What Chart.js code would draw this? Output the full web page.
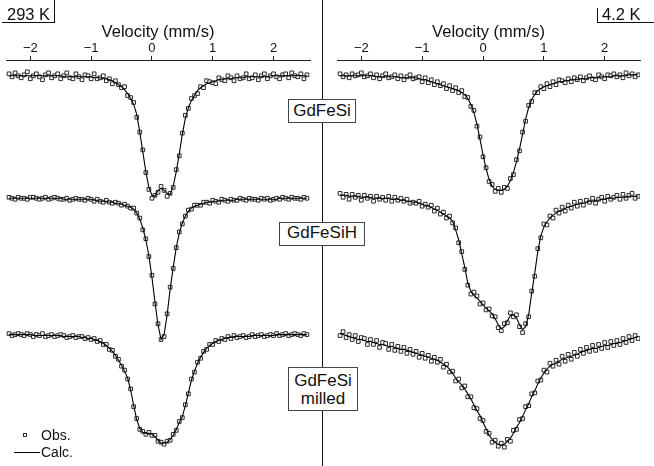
<!DOCTYPE html>
<html>
<head>
<meta charset="utf-8">
<script src="https://cdn.jsdelivr.net/npm/chart.js@4.4.0/dist/chart.umd.min.js"></script>
<style>
  html, body { margin: 0; padding: 0; background: #fff; }
  #fig { position: relative; width: 654px; height: 466px; overflow: hidden;
         font-family: "Liberation Sans", Arial, Helvetica, sans-serif; color: #111; }
  #fig canvas { position: absolute; top: 0; }
  #left { left: 0; }
  #right { left: 323px; }
  .divider { position: absolute; left: 322px; top: 0; width: 1px; height: 466px; background: #111; }
  .tag { position: absolute; box-sizing: border-box; background: #fff; border: 1px solid #444;
         font-size: 17px; text-align: center; white-space: nowrap; }
  .temp { position: absolute; top: 4px; font-size: 16.5px; line-height: 20px; }
  .frame { position: absolute; box-sizing: border-box; border-color: #111; border-style: solid; border-width: 0; }
  .legend { position: absolute; font-size: 14px; line-height: 16px; }
</style>
</head>
<body>
<div id="fig">
  <canvas id="left" width="322" height="466"></canvas>
  <canvas id="right" width="331" height="466"></canvas>
  <div class="divider"></div>

  <div class="frame" style="left:2px;top:0;width:53px;height:23px;border-right-width:1px;border-bottom-width:1px;"></div>
  <div class="temp" style="left:7px;">293 K</div>
  <div class="frame" style="left:597px;top:8px;width:57px;height:15px;border-left-width:1px;border-bottom-width:1px;"></div>
  <div class="temp" style="left:602px;">4.2 K</div>

  <div class="tag" style="left:288px;top:99px;width:68px;height:24px;line-height:22px;">GdFeSi</div>
  <div class="tag" style="left:279px;top:222px;width:86px;height:24px;line-height:20px;">GdFeSiH</div>
  <div class="tag" style="left:288px;top:367px;width:70px;height:44px;line-height:18px;padding-top:4px;">GdFeSi<br>milled</div>

  <div style="position:absolute;left:23px;top:433px;width:2px;height:2px;border:1px solid #333;background:#fff;"></div>
  <div class="legend" style="left:41px;top:427px;">Obs.</div>
  <div style="position:absolute;left:14px;top:452px;width:26px;height:1px;background:#000;"></div>
  <div class="legend" style="left:41px;top:444px;">Calc.</div>
</div>

<script>
// Mössbauer spectra, GdFeSi / GdFeSiH / milled GdFeSi at 293 K (left) and 4.2 K (right).
// All spectra share one velocity grid (mm/s). Counts are normalised so the baseline sits at 1000.
const velocity = [
  -2.35, -2.3, -2.25, -2.2, -2.15, -2.1, -2.05, -2, -1.95, -1.9,
  -1.85, -1.8, -1.75, -1.7, -1.65, -1.6, -1.55, -1.5, -1.45, -1.4,
  -1.35, -1.3, -1.25, -1.2, -1.15, -1.1, -1.05, -1, -0.95, -0.9,
  -0.85, -0.8, -0.75, -0.7, -0.65, -0.6, -0.55, -0.5, -0.45, -0.4,
  -0.35, -0.3, -0.25, -0.2, -0.15, -0.1, -0.05, 0, 0.05, 0.1,
  0.15, 0.2, 0.25, 0.3, 0.35, 0.4, 0.45, 0.5, 0.55, 0.6,
  0.65, 0.7, 0.75, 0.8, 0.85, 0.9, 0.95, 1, 1.05, 1.1,
  1.15, 1.2, 1.25, 1.3, 1.35, 1.4, 1.45, 1.5, 1.55, 1.6,
  1.65, 1.7, 1.75, 1.8, 1.85, 1.9, 1.95, 2, 2.05, 2.1,
  2.15, 2.2, 2.25, 2.3, 2.35, 2.4, 2.45, 2.5, 2.55
];
const velocityTicks = [-2, -1, 0, 1, 2];

// --- 293 K ---
const gdfesi293Obs = [
  1001, 998, 1002, 999, 997, 1000, 1003, 996, 999, 1001,
  998, 995, 1000, 1002, 997, 999, 1001, 996, 999, 1002,
  997, 996, 1001, 998, 995, 1000, 999, 996, 1001, 996,
  997, 999, 994, 996, 991, 994, 990, 987, 988, 979,
  977, 972, 957, 942, 924, 901, 884, 875, 878, 881,
  887, 883, 877, 880, 886, 904, 918, 941, 959, 966,
  976, 979, 981, 988, 987, 994, 993, 992, 991, 997,
  995, 994, 999, 997, 994, 999, 996, 997, 1001, 996,
  997, 1000, 995, 999, 1001, 996, 999, 1001, 998, 996,
  1000, 1001, 997, 1002, 999, 998, 1001, 996, 1000
];
const gdfesi293Calc = [
  999, 999, 999, 999, 999, 999, 999, 999, 999, 999,
  999, 999, 999, 999, 999, 999, 999, 999, 998, 998,
  998, 998, 998, 998, 998, 998, 998, 998, 997, 997,
  997, 996, 996, 995, 994, 992, 990, 988, 985, 981,
  976, 970, 960, 942, 922, 902, 886, 878, 877, 883,
  885, 883, 880, 879, 887, 902, 920, 940, 956, 967,
  974, 979, 984, 987, 989, 991, 992, 993, 994, 995,
  995, 996, 996, 996, 997, 997, 997, 997, 998, 998,
  998, 998, 998, 998, 998, 998, 999, 999, 999, 999,
  999, 999, 999, 999, 999, 999, 999, 999, 999
];
const gdfesih293Obs = [
  1001, 1000, 999, 1001, 1000, 1000, 999, 1001, 1001, 1000,
  999, 1000, 1001, 999, 1000, 1001, 1000, 999, 999, 1000,
  998, 999, 1000, 999, 999, 998, 1000, 999, 997, 999,
  997, 996, 998, 996, 995, 996, 995, 993, 994, 992,
  990, 990, 985, 980, 968, 959, 941, 922, 893, 873,
  857, 860, 883, 910, 929, 950, 966, 974, 982, 988,
  989, 993, 993, 993, 996, 996, 995, 998, 997, 996,
  999, 998, 997, 999, 998, 998, 1000, 999, 998, 1000,
  999, 999, 998, 1000, 999, 1000, 998, 999, 1000, 999,
  1001, 1000, 999, 1001, 1000, 1000, 999, 1001, 1000
];
const gdfesih293Calc = [
  1000, 1000, 1000, 1000, 1000, 1000, 1000, 1000, 1000, 1000,
  1000, 1000, 1000, 1000, 1000, 1000, 1000, 1000, 999, 999,
  999, 999, 999, 999, 999, 999, 999, 999, 998, 998,
  997, 997, 997, 996, 996, 995, 995, 994, 993, 992,
  991, 989, 985, 979, 970, 958, 942, 920, 895, 872,
  857, 862, 882, 908, 930, 950, 965, 975, 982, 987,
  990, 992, 993, 994, 995, 996, 996, 997, 997, 997,
  998, 998, 998, 998, 998, 999, 999, 999, 999, 999,
  999, 999, 999, 999, 999, 999, 999, 999, 999, 1000,
  1000, 1000, 1000, 1000, 1000, 1000, 1000, 1000, 1000
];
const milled293Obs = [
  1001, 999, 1000, 1001, 1000, 999, 1001, 1000, 998, 1000,
  999, 1001, 998, 999, 1000, 998, 999, 1000, 999, 997,
  998, 999, 997, 998, 998, 996, 997, 995, 996, 993,
  994, 990, 990, 985, 984, 978, 975, 968, 964, 955,
  945, 927, 915, 904, 902, 899, 901, 898, 898, 892,
  891, 889, 892, 893, 899, 903, 912, 916, 929, 940,
  955, 962, 972, 976, 983, 985, 990, 990, 994, 993,
  996, 995, 998, 996, 999, 997, 998, 999, 997, 998,
  1000, 998, 999, 1000, 998, 999, 1000, 999, 1001, 999,
  1000, 1001, 999, 1000, 1001, 1000, 999, 1001, 1000
];
const milled293Calc = [
  1000, 1000, 1000, 1000, 1000, 1000, 1000, 1000, 999, 999,
  999, 999, 999, 999, 999, 999, 999, 999, 998, 998,
  998, 998, 998, 998, 997, 997, 996, 996, 995, 994,
  993, 991, 989, 986, 983, 979, 974, 969, 963, 956,
  944, 928, 914, 905, 901, 900, 900, 899, 897, 893,
  890, 890, 891, 894, 898, 904, 911, 917, 928, 941,
  954, 963, 971, 977, 982, 986, 989, 991, 993, 994,
  995, 996, 997, 997, 998, 998, 998, 998, 998, 998,
  999, 999, 999, 999, 999, 999, 999, 999, 1000, 1000,
  1000, 1000, 1000, 1000, 1000, 1000, 1000, 1000, 1000
];

// --- 4.2 K ---
const gdfesi42Obs = [
  1001, 998, 1000, 997, 1001, 999, 1000, 1002, 998, 999,
  1001, 997, 1000, 996, 999, 1001, 997, 998, 1000, 996,
  999, 995, 998, 1000, 996, 997, 998, 993, 997, 992,
  995, 990, 993, 989, 991, 986, 989, 984, 987, 982,
  984, 978, 977, 968, 964, 948, 937, 917, 906, 892,
  889, 882, 885, 881, 886, 885, 895, 899, 914, 923,
  942, 953, 969, 973, 982, 982, 988, 986, 991, 988,
  993, 990, 995, 994, 992, 996, 993, 997, 995, 998,
  994, 997, 999, 996, 995, 1000, 998, 996, 1000, 999,
  1001, 998, 1000, 997, 1002, 999, 1001, 998, 1000
];
const gdfesi42Calc = [
  999, 999, 999, 999, 999, 999, 999, 999, 999, 999,
  999, 999, 998, 998, 998, 998, 998, 998, 998, 998,
  997, 997, 997, 997, 997, 997, 996, 995, 995, 994,
  993, 992, 991, 990, 989, 988, 987, 986, 985, 984,
  982, 980, 976, 970, 962, 950, 935, 919, 905, 894,
  887, 884, 883, 883, 884, 887, 893, 901, 912, 925,
  940, 955, 967, 975, 980, 984, 986, 988, 989, 990,
  991, 992, 993, 993, 994, 994, 995, 995, 995, 996,
  996, 996, 997, 997, 997, 997, 998, 998, 998, 998,
  999, 999, 999, 999, 999, 1000, 1000, 1000, 1000
];
const gdfesih42Obs = [
  1005, 1001, 1004, 999, 1004, 1001, 1003, 998, 1003, 1000,
  1002, 997, 1002, 999, 1001, 998, 1002, 997, 1001, 998,
  1000, 997, 999, 995, 996, 995, 997, 992, 994, 991,
  993, 987, 990, 984, 986, 980, 982, 975, 970, 955,
  946, 928, 912, 903, 905, 901, 893, 894, 887, 888,
  881, 880, 869, 866, 873, 874, 884, 880, 882, 870,
  864, 873, 880, 906, 921, 949, 960, 974, 973, 982,
  980, 988, 985, 991, 987, 993, 990, 996, 992, 997,
  993, 998, 996, 1000, 995, 999, 1001, 997, 1002, 999,
  1001, 1003, 999, 1004, 1000, 1003, 1005, 1000, 1002
];
const gdfesih42Calc = [
  1003, 1003, 1003, 1002, 1002, 1002, 1002, 1001, 1001, 1001,
  1001, 1000, 1000, 1000, 1000, 1000, 1000, 999, 999, 999,
  998, 998, 997, 997, 996, 996, 995, 994, 993, 992,
  991, 989, 988, 986, 984, 982, 980, 977, 968, 958,
  944, 930, 914, 906, 902, 899, 896, 892, 889, 886,
  883, 878, 872, 868, 870, 876, 881, 882, 879, 872,
  867, 870, 882, 904, 924, 946, 962, 971, 976, 980,
  983, 985, 987, 988, 990, 991, 992, 993, 994, 995,
  995, 996, 997, 997, 998, 998, 999, 999, 1000, 1000,
  1000, 1001, 1001, 1001, 1001, 1002, 1002, 1002, 1002
];
const milled42Obs = [
  999, 1003, 997, 1000, 995, 999, 993, 997, 996, 990,
  995, 990, 994, 987, 992, 991, 985, 990, 984, 988,
  983, 987, 981, 985, 980, 983, 977, 981, 976, 979,
  973, 977, 972, 975, 967, 970, 962, 963, 953, 955,
  946, 948, 937, 937, 926, 925, 915, 913, 902, 900,
  891, 893, 887, 890, 886, 894, 892, 903, 904, 914,
  915, 927, 928, 940, 941, 953, 954, 964, 962, 971,
  968, 974, 970, 978, 973, 980, 975, 982, 978, 985,
  981, 987, 983, 989, 984, 990, 986, 992, 987, 993,
  989, 994, 990, 996, 992, 998, 994, 999, 996
];
const milled42Calc = [
  1001, 1000, 999, 998, 997, 996, 995, 995, 994, 993,
  993, 992, 991, 990, 990, 989, 988, 988, 987, 986,
  985, 985, 984, 983, 982, 981, 980, 979, 978, 977,
  976, 975, 974, 972, 970, 968, 965, 961, 956, 952,
  949, 945, 940, 935, 929, 923, 918, 911, 905, 898,
  894, 891, 889, 888, 889, 892, 895, 900, 906, 911,
  917, 924, 930, 937, 943, 950, 956, 961, 965, 968,
  970, 971, 973, 975, 976, 977, 978, 979, 980, 982,
  983, 984, 985, 986, 986, 987, 988, 989, 989, 990,
  991, 991, 992, 993, 994, 995, 996, 997, 998
];

// Vertical stacking of the three spectra in each panel (top, middle, bottom), in count units.
const OFFSETS = [0, -125, -263];

Chart.defaults.font.family = "'Liberation Sans', Arial, Helvetica, sans-serif";
Chart.defaults.color = '#111';

const minus = (v) => (v < 0 ? '\u2212' + Math.abs(v) : String(v));

function panel(canvasId, spectra, xMin, xMax, padding) {
    const datasets = [];
    spectra.forEach(([obs, calc], k) => {
        const off = OFFSETS[k];
        // fitted curve on top of the points
        datasets.push({
            label: 'Calc.', showLine: true, order: 0,
            data: velocity.map((v, i) => ({ x: v, y: calc[i] + off })),
            borderColor: '#000', borderWidth: 1.1, pointRadius: 0, tension: 0,
        });
        datasets.push({
            label: 'Obs.', showLine: false, order: 1,
            data: velocity.map((v, i) => ({ x: v, y: obs[i] + off })),
            pointStyle: 'rect', pointRadius: 2.6, borderWidth: 1,
            borderColor: '#2a2a2a', backgroundColor: '#fff',
        });
    });

    return new Chart(document.getElementById(canvasId), {
        type: 'scatter',
        data: { datasets },
        options: {
            responsive: false,
            animation: false,
            events: [],
            layout: { padding },
            plugins: { legend: { display: false }, tooltip: { enabled: false } },
            scales: {
                x: {
                    type: 'linear', position: 'top', min: xMin, max: xMax,
                    afterBuildTicks: (s) => { s.ticks = velocityTicks.map((value) => ({ value })); },
                    afterFit: (s) => { s.height = 60; },
                    grid: { drawOnChartArea: false, drawTicks: true, tickLength: 4, color: '#222' },
                    border: { display: true, color: '#222', width: 1 },
                    ticks: { padding: 0, maxRotation: 0, font: { size: 13 }, color: '#111', callback: minus },
                    title: { display: true, text: 'Velocity (mm/s)', color: '#111',
                             font: { size: 16.5 }, padding: { top: 23, bottom: 0 } },
                },
                y: { display: false, min: 609, max: 1015 },
            },
        },
    });
}

panel('left', [
    [gdfesi293Obs, gdfesi293Calc],
    [gdfesih293Obs, gdfesih293Calc],
    [milled293Obs, milled293Calc],
], -2.4, 2.6, { left: 6, right: 12, top: 0, bottom: 0 });

panel('right', [
    [gdfesi42Obs, gdfesi42Calc],
    [gdfesih42Obs, gdfesih42Calc],
    [milled42Obs, milled42Calc],
], -2.4, 2.58, { left: 14, right: 14, top: 0, bottom: 0 });
</script>
</body>
</html>
